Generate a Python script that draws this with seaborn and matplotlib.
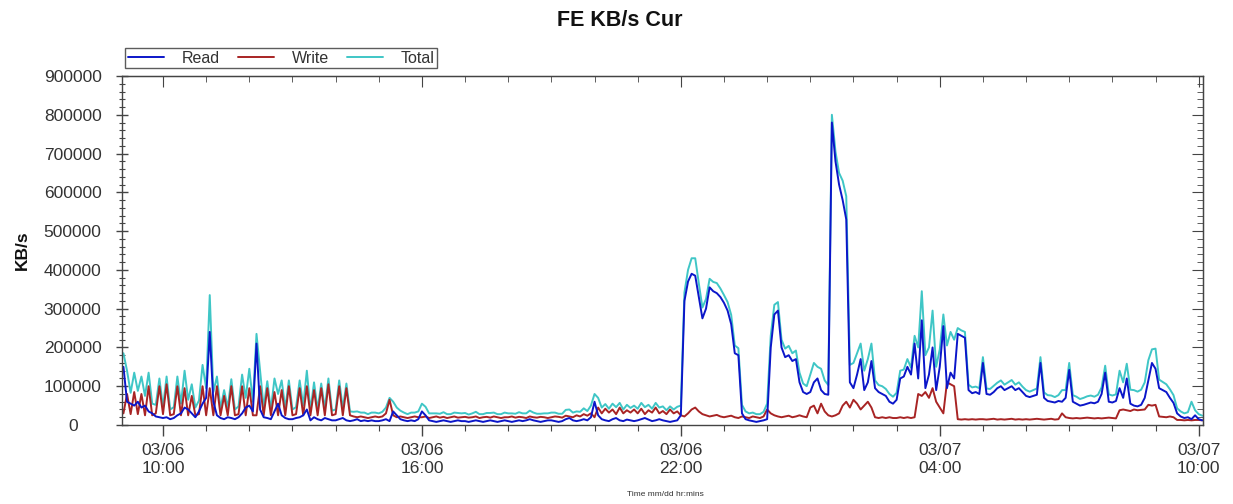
import numpy as np
import pandas as pd
import matplotlib
matplotlib.use("Agg")
import matplotlib.pyplot as plt
import matplotlib.dates as mdates
from matplotlib.ticker import MultipleLocator, FuncFormatter
import seaborn as sns

# 5-minute samples, 03/06 09:05 -> 03/07 10:05
times = pd.date_range("2024-03-06 09:05", "2024-03-07 10:05", freq="5min")

# Front-end throughput in thousands of KB/s, one row per hour
read_k = [
    150, 60, 55, 50, 60, 45, 50, 35, 30, 22, 20,                # 09
    18, 20, 15, 18, 25, 30, 45, 40, 30, 20, 35, 55,             # 10
    70, 240, 60, 25, 18, 15, 20, 18, 15, 20, 30, 45,            # 11
    50, 35, 210, 40, 20, 18, 15, 35, 55, 25, 18, 15,            # 12
    15, 18, 20, 25, 40, 12, 20, 15, 12, 18, 15, 12,             # 13
    12, 15, 18, 12, 10, 12, 15, 10, 12, 10, 12, 10,             # 14
    10, 12, 15, 10, 35, 25, 15, 12, 10, 12, 10, 15,             # 15
    35, 25, 12, 10, 8, 10, 12, 10, 8, 10, 12, 10,               # 16
    10, 8, 10, 12, 10, 8, 10, 12, 10, 8, 10, 12,                # 17
    10, 8, 10, 12, 10, 12, 15, 12, 10, 8, 10, 12,               # 18
    12, 10, 8, 10, 15, 18, 12, 10, 12, 15, 12, 20,              # 19
    60, 25, 15, 12, 10, 15, 18, 12, 10, 14, 12, 10,             # 20
    12, 15, 18, 14, 10, 12, 15, 12, 10, 8, 10, 12,              # 21
    25, 320, 370, 390, 385, 330, 275, 300, 355, 345, 340, 330,  # 22
    315, 295, 260, 185, 180, 30, 15, 12, 10, 8, 10, 12,         # 23
    15, 200, 285, 295, 200, 175, 180, 165, 170, 110, 85, 80,    # 00
    85, 110, 120, 90, 80, 78, 780, 680, 620, 580, 530, 110,     # 01
    95, 130, 170, 90, 110, 165, 95, 85, 80, 75, 60, 55,         # 02
    65, 120, 125, 150, 130, 210, 120, 270, 95, 130, 200, 90,    # 03
    150, 255, 95, 135, 120, 235, 230, 225, 90, 82, 85, 80,      # 04
    160, 80, 78, 85, 95, 100, 90, 95, 100, 90, 95, 85,          # 05
    75, 72, 75, 78, 160, 70, 62, 60, 58, 62, 60, 70,            # 06
    142, 60, 55, 50, 52, 55, 58, 56, 60, 80, 135, 60,           # 07
    58, 62, 95, 70, 120, 55, 50, 48, 52, 70, 115, 160,          # 08
    145, 95, 90, 85, 70, 57, 30, 22, 18, 20, 15, 25,            # 09
    15, 12,                                                     # 10
]

write_k = [
    30, 80, 28, 85, 28, 80, 25, 100, 25, 30, 100,               # 09
    28, 105, 25, 28, 100, 25, 95, 25, 75, 25, 28, 100,          # 10
    25, 95, 25, 100, 25, 75, 25, 100, 25, 28, 100, 25,          # 11
    95, 25, 25, 100, 25, 95, 25, 85, 25, 90, 25, 100,           # 12
    25, 28, 95, 25, 100, 25, 90, 25, 95, 25, 105, 25,           # 13
    28, 100, 25, 95, 25, 22, 20, 22, 20, 18, 20, 22,            # 14
    20, 22, 30, 65, 25, 20, 22, 20, 18, 20, 22, 20,             # 15
    20, 22, 18, 20, 22, 19, 21, 18, 20, 22, 19, 20,             # 16
    21, 19, 20, 22, 18, 20, 21, 19, 22, 20, 18, 20,             # 17
    20, 22, 19, 21, 20, 18, 22, 20, 19, 21, 20, 18,             # 18
    20, 22, 21, 19, 24, 22, 20, 25, 22, 28, 24, 30,             # 19
    20, 45, 30, 42, 32, 40, 28, 45, 30, 38, 32, 40,             # 20
    30, 42, 28, 38, 32, 45, 30, 36, 28, 40, 30, 35,             # 21
    25, 22, 30, 40, 45, 35, 28, 25, 22, 24, 26, 22,             # 22
    20, 22, 24, 20, 18, 22, 20, 18, 22, 20, 18, 22,             # 23
    40, 30, 25, 22, 20, 22, 24, 20, 22, 25, 22, 20,             # 00
    45, 50, 30, 55, 35, 25, 22, 25, 30, 50, 60, 45,             # 01
    65, 55, 40, 50, 60, 45, 20, 18, 20, 18, 20, 18,             # 02
    18, 20, 18, 20, 18, 20, 80, 75, 85, 70, 95, 60,             # 03
    45, 30, 110, 105, 100, 15, 14, 15, 14, 15, 14, 15,          # 04
    15, 14, 15, 16, 14, 15, 14, 15, 16, 14, 15, 14,             # 05
    15, 14, 15, 16, 15, 14, 15, 16, 14, 15, 30, 20,             # 06
    18, 17, 18, 17, 18, 19, 18, 17, 18, 17, 18, 19,             # 07
    18, 17, 38, 40, 38, 36, 40, 38, 39, 40, 52, 50,             # 08
    52, 22, 21, 20, 22, 20, 13, 13, 12, 13, 12, 13,             # 09
    13, 12,                                                     # 10
]

total_k = [
    185, 140, 83, 135, 88, 125, 75, 135, 55, 52, 120,           # 09
    46, 125, 40, 46, 125, 55, 140, 65, 105, 45, 63, 155,        # 10
    95, 335, 85, 125, 43, 90, 45, 118, 40, 48, 130, 70,         # 11
    145, 60, 235, 140, 45, 113, 40, 120, 80, 115, 43, 115,      # 12
    40, 46, 115, 50, 140, 37, 110, 40, 107, 43, 120, 37,        # 13
    40, 115, 43, 107, 35, 34, 35, 32, 32, 28, 32, 32,           # 14
    30, 34, 45, 70, 60, 45, 37, 32, 28, 32, 32, 35,             # 15
    55, 47, 30, 30, 30, 29, 33, 28, 28, 32, 31, 30,             # 16
    31, 27, 30, 34, 28, 28, 31, 31, 32, 28, 28, 32,             # 17
    30, 30, 29, 33, 30, 30, 37, 32, 29, 29, 30, 30,             # 18
    32, 32, 29, 29, 39, 40, 32, 35, 34, 43, 36, 50,             # 19
    80, 70, 45, 54, 42, 55, 46, 57, 40, 52, 44, 50,             # 20
    42, 57, 46, 52, 42, 57, 45, 48, 38, 48, 40, 47,             # 21
    50, 342, 400, 430, 430, 365, 303, 325, 377, 369, 366, 352,  # 22
    335, 317, 284, 205, 198, 52, 35, 30, 32, 28, 28, 34,        # 23
    55, 230, 310, 317, 220, 197, 204, 185, 192, 135, 107, 100,  # 00
    130, 160, 150, 145, 115, 103, 800, 705, 650, 630, 590, 155, # 01
    160, 185, 210, 140, 170, 210, 115, 103, 100, 93, 80, 73,    # 02
    83, 140, 143, 170, 148, 230, 200, 345, 180, 200, 295, 150,  # 03
    195, 285, 205, 240, 220, 250, 244, 240, 104, 97, 99, 95,    # 04
    175, 94, 93, 101, 109, 115, 104, 110, 116, 104, 110, 99,    # 05
    90, 86, 90, 94, 175, 84, 77, 76, 72, 77, 90, 90,            # 06
    160, 77, 73, 67, 70, 74, 76, 73, 78, 97, 153, 79,           # 07
    76, 79, 140, 110, 158, 91, 90, 86, 91, 110, 167, 195,       # 08
    197, 117, 111, 105, 92, 77, 43, 35, 30, 33, 60, 38,         # 09
    28, 24,                                                     # 10
]

series_names = ["Read", "Write", "Total"]
series_colors = {"Read": "#0b16c9", "Write": "#a82424", "Total": "#3fc6c6"}

df = pd.DataFrame({
    "time": times,
    "Read": np.array(read_k, dtype=float) * 1000,
    "Write": np.array(write_k, dtype=float) * 1000,
    "Total": np.array(total_k, dtype=float) * 1000,
})

sns.set_style("ticks")
plt.rcParams["font.family"] = ["Liberation Sans", "DejaVu Sans"]

W, H = 1233, 504
fig = plt.figure(figsize=(W / 100, H / 100), dpi=100)
ax = fig.add_axes([122 / W, 1 - 425 / H, (1203 - 122) / W, (425 - 76) / H])

# Total underneath, Read on top
for name in ["Total", "Write", "Read"]:
    sns.lineplot(data=df, x="time", y=name, color=series_colors[name],
                 lw=1.4, ax=ax, label=name, errorbar=None)

ax.set_xlim(pd.Timestamp("2024-03-06 09:03"), pd.Timestamp("2024-03-07 10:06"))
ax.set_ylim(0, 900000)

spine_col = "#444444"
text_col = "#333333"
for s in ax.spines.values():
    s.set_color(spine_col)
    s.set_linewidth(1.0)

# y axis
ax.yaxis.set_major_locator(MultipleLocator(100000))
ax.yaxis.set_minor_locator(MultipleLocator(20000))
ax.yaxis.set_major_formatter(FuncFormatter(lambda v, p: f"{int(round(v))}"))
ax.tick_params(axis="y", which="major", direction="inout", length=9, width=1.0,
               color=spine_col, labelsize=12.5, labelcolor=text_col, pad=31)
ax.tick_params(axis="y", which="minor", direction="inout", length=5, width=0.8,
               color=spine_col)
plt.setp(ax.get_yticklabels(), ha="center")

# x axis
ax.xaxis.set_major_locator(mdates.HourLocator(byhour=[4, 10, 16, 22]))
ax.xaxis.set_minor_locator(mdates.HourLocator())
ax.xaxis.set_major_formatter(mdates.DateFormatter("%m/%d\n%H:%M"))
ax.tick_params(axis="x", which="major", direction="out", length=8, width=1.0,
               color=spine_col, labelsize=12.5, labelcolor=text_col, pad=5)
ax.tick_params(axis="x", which="minor", direction="out", length=4, width=0.8,
               color=spine_col)
for lbl in ax.get_xticklabels():
    lbl.set_linespacing(1.25)

# mirrored ticks on the top and right frame
secx = ax.secondary_xaxis("top")
secx.xaxis.set_major_locator(mdates.HourLocator(byhour=[4, 10, 16, 22]))
secx.xaxis.set_minor_locator(mdates.HourLocator())
secx.tick_params(axis="x", which="major", direction="in", length=8, color=spine_col,
                 labeltop=False)
secx.tick_params(axis="x", which="minor", direction="in", length=4, color=spine_col)
secx.spines["top"].set_color(spine_col)

secy = ax.secondary_yaxis("right")
secy.yaxis.set_major_locator(MultipleLocator(100000))
secy.yaxis.set_minor_locator(MultipleLocator(20000))
secy.tick_params(axis="y", which="major", direction="in", length=8, color=spine_col,
                 labelright=False)
secy.tick_params(axis="y", which="minor", direction="in", length=4, color=spine_col)
secy.spines["right"].set_color(spine_col)

ax.set_xlabel("")
ax.set_ylabel("KB/s", fontsize=12.5, fontweight="bold", color="#111111")
ax.yaxis.set_label_coords((30 - 122) / (1203 - 122), 0.5)

# legend above the plot, left aligned
handles, labels = ax.get_legend_handles_labels()
lookup = dict(zip(labels, handles))
leg = ax.legend([lookup[n] for n in series_names], series_names,
                loc="lower left", bbox_to_anchor=(0.003, 1.023), ncol=3,
                frameon=True, fancybox=False, edgecolor="#333333",
                fontsize=11.5, handlelength=2.3, handletextpad=1.1,
                columnspacing=1.1, borderpad=0.15, borderaxespad=0)
leg.get_frame().set_linewidth(1.0)
for t in leg.get_texts():
    t.set_color(text_col)

fig.text(0.503, 1 - 20 / H, "FE KB/s Cur", ha="center", va="center",
         fontsize=15.5, fontweight="bold", color="#111111")
fig.text(665 / W, 1 - 495 / H, "Time mm/dd hr:mins", ha="center", va="center",
         fontsize=6, color="#333333")

fig.savefig("out.png", dpi=100, facecolor="white")
